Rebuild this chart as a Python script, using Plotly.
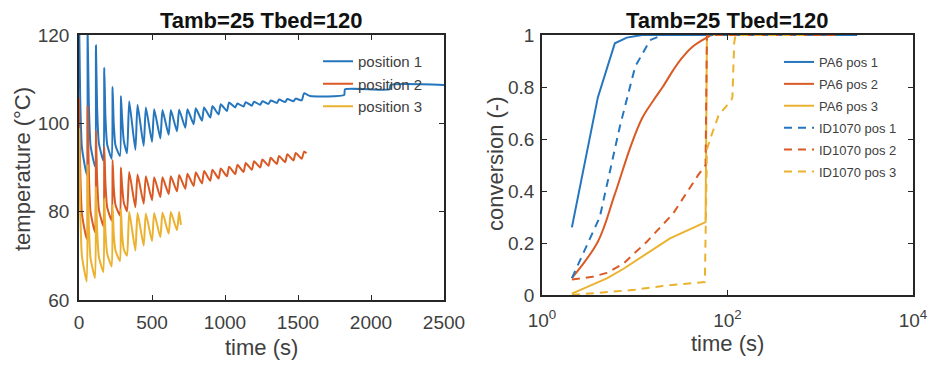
import plotly.graph_objects as go

# ---------------- data: left panel (temperature vs time) ----------------
time_pos1 = [0, 8, 20, 53, 59, 67, 79, 110, 116, 124, 136, 167, 173, 181, 193, 224,
             230, 238, 250, 281, 287, 295, 307, 329,
             344, 386, 401, 443, 458, 500, 515, 557, 572, 614, 629, 671, 686, 728,
             743, 785, 800, 842, 857, 899, 914, 956, 971, 1013, 1028, 1070, 1085, 1127,
             1142, 1184, 1199, 1241, 1256, 1298, 1313, 1355, 1370, 1412, 1427, 1469,
             1484, 1526, 1541, 1583, 1816, 1822, 2128, 2134, 2500]
temp_pos1 = [125, 106.0, 94.5, 88.4, 121, 105.0, 95.0, 90.2, 117.6, 103.5, 95.5, 91.5,
             112.6, 101.5, 95.2, 92.0, 108.2, 99.8, 95.0, 92.6, 106.2, 101.4, 96.0, 93.2,
             105.0, 94.0, 104.2, 94.9, 103.6, 95.8, 103.2, 96.6, 103.0, 97.4, 103.0, 98.2,
             103.1, 99.0, 103.2, 99.8, 103.4, 100.6, 103.6, 101.3, 103.9, 102.0, 104.3, 102.8,
             104.7, 103.6, 104.5, 103.8, 104.8, 104.0, 104.9, 104.2, 105.0, 104.4, 105.2, 104.6,
             105.4, 104.8, 105.5, 105.0, 105.6, 105.2, 106.8, 106.2, 106.4, 107.7, 107.7, 108.7, 108.7]

time_pos2 = [0, 8, 20, 53, 59, 67, 79, 110, 116, 124, 136, 167, 173, 181, 193, 224,
             230, 238, 250, 281, 287, 295, 307, 329,
             344, 386, 401, 443, 458, 500, 515, 557, 572, 614, 629, 671, 686, 728,
             743, 785, 800, 842, 857, 899, 914, 956, 971, 1013, 1028, 1070, 1085, 1127,
             1142, 1184, 1199, 1241, 1256, 1298, 1313, 1355, 1370, 1412, 1427, 1469,
             1484, 1526, 1541, 1558]
temp_pos2 = [105.8, 90.0, 79.5, 73.8, 103.8, 89.5, 80.0, 75.3, 98.4, 87.5, 80.5, 76.7,
             94.7, 86.5, 81.0, 78.0, 91.7, 85.5, 81.5, 79.1, 90.0, 86.0, 82.0, 80.1,
             89.0, 81.0, 88.4, 81.8, 88.0, 82.6, 87.8, 83.3, 87.8, 84.0, 88.0, 84.6,
             88.3, 85.2, 88.6, 85.8, 88.9, 86.4, 89.2, 87.0, 89.5, 87.5, 89.8, 88.0,
             90.2, 88.5, 90.6, 89.0, 91.0, 89.5, 91.4, 90.0, 91.8, 90.4, 92.2, 90.8,
             92.6, 91.2, 93.0, 91.6, 93.3, 92.0, 93.6, 93.2]

time_pos3 = [0, 8, 20, 53, 59, 67, 79, 110, 116, 124, 136, 167, 173, 181, 193, 224,
             230, 238, 250, 281, 287, 295, 307, 329,
             344, 386, 401, 443, 458, 500, 515, 557, 572, 614, 629, 671, 686, 698]
temp_pos3 = [99.0, 81.0, 70.0, 64.2, 90.5, 77.5, 69.5, 65.0, 85.7, 76.0, 69.8, 66.3,
             83.0, 75.5, 70.5, 67.6, 81.5, 75.0, 71.2, 68.8, 80.6, 75.0, 71.5, 70.0,
             80.0, 71.2, 79.7, 72.3, 79.6, 73.3, 79.7, 74.2, 79.8, 75.0, 79.9, 75.8, 80.0, 77.0]

left_names = ["position 1", "position 2", "position 3"]
left_xticks = [0, 500, 1000, 1500, 2000, 2500]
left_yticks = [60, 80, 100, 120]

# ---------------- data: right panel (conversion vs log time) ----------------
pa6_pos1_t = [2.1, 4.0, 6.1, 8.2, 12, 2500]
pa6_pos1_c = [0.26, 0.76, 0.968, 0.99, 1.0, 1.0]
pa6_pos2_t = [2.1, 4.0, 6.0, 9.0, 12, 16, 20, 26, 32, 42, 60, 68, 1560]
pa6_pos2_c = [0.065, 0.205, 0.38, 0.57, 0.68, 0.75, 0.80, 0.865, 0.91, 0.955, 0.99, 1.0, 1.0]
pa6_pos3_t = [2.1, 3.2, 5.0, 7.5, 24, 58, 60, 691]
pa6_pos3_c = [0.005, 0.035, 0.064, 0.10, 0.218, 0.28, 1.0, 1.0]
id_pos1_t = [2.1, 4.2, 6.9, 10.1, 14.6, 20, 2500]
id_pos1_c = [0.065, 0.30, 0.647, 0.878, 0.98, 1.0, 1.0]
id_pos2_t = [2.1, 3.5, 5.0, 7.5, 13.5, 26, 48, 58, 60, 1560]
id_pos2_c = [0.06, 0.07, 0.085, 0.12, 0.205, 0.314, 0.46, 0.50, 1.0, 1.0]
id_pos3_t = [2.1, 5, 10, 20, 40, 57, 60, 65, 80, 110, 113, 118, 122, 691]
id_pos3_c = [0.0, 0.01, 0.02, 0.035, 0.045, 0.05, 0.56, 0.6, 0.69, 0.75, 0.76, 0.97, 1.0, 1.0]

right_names = ["PA6 pos 1", "PA6 pos 2", "PA6 pos 3", "ID1070 pos 1", "ID1070 pos 2", "ID1070 pos 3"]
right_xticks = [1, 100, 10000]
right_xticktext = ["10<sup>0</sup>", "10<sup>2</sup>", "10<sup>4</sup>"]
right_yticks = [0, 0.2, 0.4, 0.6, 0.8, 1]
right_yticktext = ["0", "0.2", "0.4", "0.6", "0.8", "1"]

title_text = "Tamb=25 Tbed=120"

# ---------------- styling ----------------
W, H = 931, 367
C = ["#2676be", "#d95a25", "#ebb22f"]
FONT = "Arial, Liberation Sans, Helvetica, sans-serif"
AX = "#262626"
TXT = "#404040"

fig = go.Figure()

for t, v, name, col in zip([time_pos1, time_pos2, time_pos3],
                           [temp_pos1, temp_pos2, temp_pos3], left_names, C):
    fig.add_trace(go.Scatter(x=t, y=v, mode="lines", name=name,
                             line=dict(color=col, width=2, shape="spline", smoothing=0.5),
                             xaxis="x", yaxis="y", legend="legend"))

right_series = [(pa6_pos1_t, pa6_pos1_c, C[0], "solid", "linear"),
                (pa6_pos2_t, pa6_pos2_c, C[1], "solid", "spline"),
                (pa6_pos3_t, pa6_pos3_c, C[2], "solid", "linear"),
                (id_pos1_t, id_pos1_c, C[0], "8px,6px", "linear"),
                (id_pos2_t, id_pos2_c, C[1], "8px,6px", "linear"),
                (id_pos3_t, id_pos3_c, C[2], "8px,6px", "linear")]
for i, ((t, v, col, dash, shape), name) in enumerate(zip(right_series, right_names)):
    fig.add_trace(go.Scatter(x=t, y=v, mode="lines", name=name,
                             line=dict(color=col, width=2, dash=dash, shape=shape),
                             xaxis="x2", yaxis="y2", legend="legend2",
                             legendgroup="g%d" % i))


def px_x(p):
    return p / W


def px_y(p):
    return 1 - p / H


axis_common = dict(showline=True, mirror="ticks", linecolor=AX, linewidth=1.6,
                   ticks="inside", ticklen=5, tickcolor=AX, tickwidth=1.2,
                   showgrid=False, zeroline=False, automargin=False,
                   tickfont=dict(family=FONT, size=19, color=TXT))

L_x0, L_x1, L_y0, L_y1 = 79, 444, 35, 300
R_x0, R_x1, R_y0, R_y1 = 542, 913, 35, 295

fig.update_layout(
    width=W, height=H,
    margin=dict(l=0, r=0, t=0, b=0, autoexpand=False),
    paper_bgcolor="white", plot_bgcolor="white",
    font=dict(family=FONT, color=TXT),
    xaxis=dict(domain=[px_x(L_x0), px_x(L_x1)], range=[0, 2500], anchor="y",
               tickvals=left_xticks, ticklabelstandoff=4, **axis_common),
    yaxis=dict(domain=[px_y(L_y1), px_y(L_y0)], range=[60, 120], anchor="x",
               tickvals=left_yticks, ticklabelstandoff=4, **axis_common),
    xaxis2=dict(type="log", domain=[px_x(R_x0), px_x(R_x1)], range=[0, 4], anchor="y2",
                tickvals=right_xticks, ticktext=right_xticktext, ticklabelstandoff=7,
                **axis_common),
    yaxis2=dict(domain=[px_y(R_y1), px_y(R_y0)], range=[0, 1], anchor="x2",
                tickvals=right_yticks, ticktext=right_yticktext, ticklabelstandoff=2,
                **axis_common),
    legend=dict(x=px_x(318), y=px_y(45), xanchor="left", yanchor="top",
                bgcolor="rgba(0,0,0,0)", borderwidth=0,
                font=dict(family=FONT, size=15, color=TXT), tracegroupgap=0),
    legend2=dict(x=px_x(779), y=px_y(47), xanchor="left", yanchor="top",
                 bgcolor="rgba(255,255,255,0.6)", borderwidth=0,
                 font=dict(family=FONT, size=13, color=TXT), tracegroupgap=2),
    showlegend=True,
)

annotations = [
    dict(text="<b>%s</b>" % title_text, x=px_x((L_x0 + L_x1) / 2), y=px_y(20),
         font=dict(size=22, color="#111111", family=FONT)),
    dict(text="<b>%s</b>" % title_text, x=px_x((R_x0 + R_x1) / 2), y=px_y(20),
         font=dict(size=22, color="#111111", family=FONT)),
    dict(text="time (s)", x=px_x((L_x0 + L_x1) / 2), y=px_y(347),
         font=dict(size=22, color=TXT, family=FONT)),
    dict(text="time (s)", x=px_x((R_x0 + R_x1) / 2), y=px_y(343),
         font=dict(size=22, color=TXT, family=FONT)),
    dict(text="temperature (°C)", x=px_x(22), y=px_y(169), textangle=-90,
         font=dict(size=22, color=TXT, family=FONT)),
    dict(text="conversion (-)", x=px_x(496), y=px_y(164), textangle=-90,
         font=dict(size=22, color=TXT, family=FONT)),
]
for a in annotations:
    a.update(xref="paper", yref="paper", showarrow=False, xanchor="center", yanchor="middle")
fig.update_layout(annotations=annotations)

fig.write_html("out.html")
